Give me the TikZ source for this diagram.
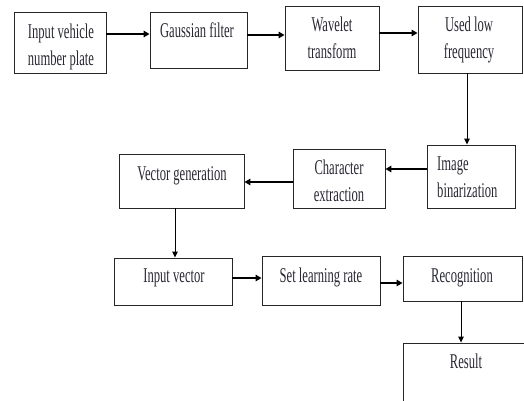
\documentclass[tikz,border=0pt]{standalone}
\usepackage{fontspec}
\setmainfont{Liberation Serif}[FakeStretch=0.6]
\usetikzlibrary{fit,arrows.meta}
\definecolor{inktext}{RGB}{40,40,50}
\begin{document}
\begin{tikzpicture}[x=1pt,y=-1pt,
  box/.style={draw=black!85,line width=0.9pt,inner sep=0pt,rectangle},
  txt/.style={anchor=base,inner sep=0pt,align=center,font=\fontsize{21}{27}\selectfont,text=inktext},
  txtl/.style={txt,align=left,anchor=base west},
  harr/.style={line width=1.6pt,-{Triangle[length=6pt,width=6.5pt]}},
  varr/.style={line width=1pt,-{Triangle[length=6pt,width=5.5pt]}}]
\useasboundingbox (0,0) rectangle (524,400);
\clip (0,0) rectangle (524,400);
% boxes
\node[box,fit={(14,12)(106,73)}] (b1) {};
\node[box,fit={(150,12)(247,68)}] (b2) {};
\node[box,fit={(285,6)(379,70)}] (b3) {};
\node[box,fit={(418,6)(522,73)}] (b4) {};
\node[box,fit={(427,145)(515,208)}] (b5) {};
\node[box,fit={(293,149)(385,208)}] (b6) {};
\node[box,fit={(119,154)(244,208)}] (b7) {};
\node[box,fit={(114,258)(232,305)}] (b8) {};
\node[box,fit={(262,256)(380,305)}] (b9) {};
\node[box,fit={(403,256)(522,301)}] (b10) {};
\node[box,fit={(403,343)(545,420)}] (b11) {};
% texts (multi-line nodes: base = last line)
\node[txt] (t1) at (61,65) {Input vehicle\\number plate};
\node[txt] (t2) at (197,37) {Gaussian filter};
\node[txt] (t3) at (332,58) {Wavelet\\transform};
\node[txt] (t4) at (469,58) {Used low\\frequency};
\node[txtl] (t5) at (437,197) {Image\\binarization};
\node[txt] (t6) at (339,201) {Character\\extraction};
\node[txt] (t7) at (182,180) {Vector generation};
\node[txt] (t8) at (174,282) {Input vector};
\node[txt] (t9) at (321,282) {Set learning rate};
\node[txt] (t10) at (462,282) {Recognition};
\node[txt] (t11) at (466,368) {Result};
% arrows
\draw[harr] (b1.east |- 0,34) -- (b2.west |- 0,34);
\draw[harr] (b2.east |- 0,35) -- (b3.west |- 0,35);
\draw[harr] (b3.east |- 0,33) -- (b4.west |- 0,33);
\draw[varr] (b4.south -| 467,0) -- (b5.north -| 467,0);
\draw[harr] (b5.west |- 0,169) -- (b6.east |- 0,169);
\draw[harr] (b6.west |- 0,182) -- (b7.east |- 0,182);
\draw[varr] (b7.south -| 175,0) -- (b8.north -| 175,0);
\draw[harr] (b8.east |- 0,278) -- (b9.west |- 0,278);
\draw[harr] (b9.east |- 0,283) -- (b10.west |- 0,283);
\draw[varr] (b10.south -| 461,0) -- (b11.north -| 461,0);
\end{tikzpicture}
\end{document}
